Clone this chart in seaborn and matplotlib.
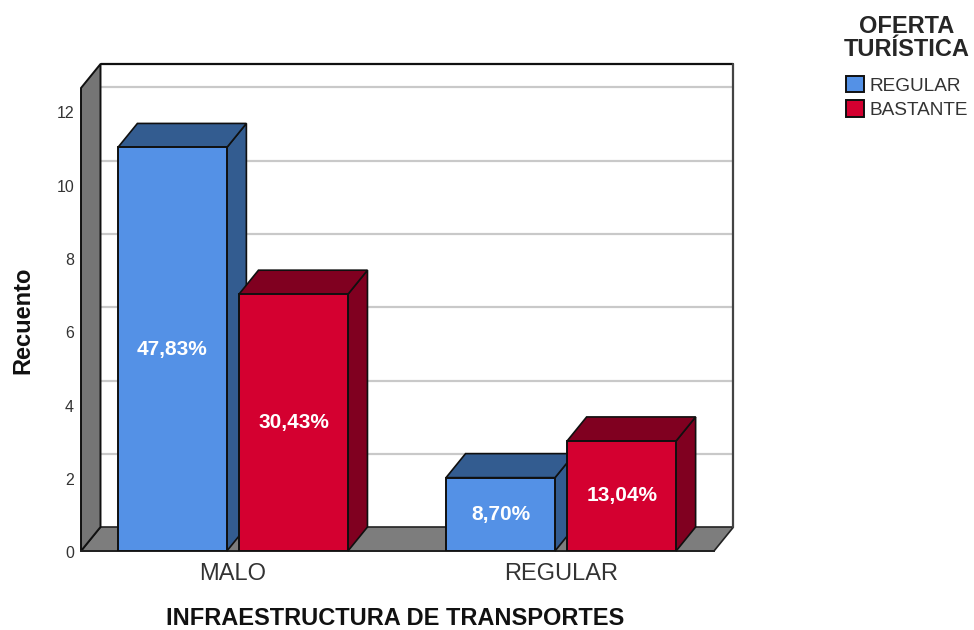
import matplotlib
matplotlib.use("Agg")
import matplotlib.pyplot as plt
from matplotlib.patches import Polygon
from matplotlib.transforms import ScaledTranslation
import pandas as pd
import seaborn as sns

categories = ["MALO", "REGULAR"]
oferta = ["REGULAR", "BASTANTE"]
regular_counts = [11, 2]
bastante_counts = [7, 3]
regular_pct = ["47,83%", "8,70%"]
bastante_pct = ["30,43%", "13,04%"]
y_ticks = [0, 2, 4, 6, 8, 10, 12]

FRONT = {"REGULAR": "#5491E6", "BASTANTE": "#D40030"}
DARK = {"#5491E6": "#335C90", "#D40030": "#800020"}

sns.set_theme(style="white")
plt.rcParams["font.family"] = ["Liberation Sans", "DejaVu Sans"]

W, H = 974, 630
LEFT, RIGHT, BOTTOM, TOP = 81, 714, 551, 88
DEPTH_X, DEPTH_Y = 19.5, 24

df = pd.DataFrame({
    "infra": categories * 2,
    "oferta": [oferta[0]] * 2 + [oferta[1]] * 2,
    "recuento": regular_counts + bastante_counts,
})

fig = plt.figure(figsize=(W / 100, H / 100), dpi=100)
ax = fig.add_axes([LEFT / W, 1 - BOTTOM / H, (RIGHT - LEFT) / W, (BOTTOM - TOP) / H])
ax.patch.set_alpha(0)

sns.barplot(data=df, x="infra", y="recuento", hue="oferta", hue_order=oferta,
            palette=FRONT, saturation=1, width=0.738, gap=0.1,
            edgecolor="#101010", linewidth=1.4, ax=ax)

ax.set_xlim(-0.463, 1.466)
ax.set_ylim(0, 12.62)
ax.set_yticks(y_ticks)

# depth of the fake 3d box, in data units
dx = DEPTH_X * (ax.get_xlim()[1] - ax.get_xlim()[0]) / (RIGHT - LEFT)
dy = DEPTH_Y * ax.get_ylim()[1] / (BOTTOM - TOP)
x0, x1 = ax.get_xlim()
ymax = ax.get_ylim()[1]

# walls
ax.add_patch(Polygon([(x0 + dx, dy), (x1 + dx, dy), (x1 + dx, ymax + dy), (x0 + dx, ymax + dy)],
                     fc="white", ec="none", zorder=0.5, clip_on=False))
for t in y_ticks[1:]:
    ax.plot([x0 + dx, x1 + dx], [t + dy * 0.98, t + dy * 0.98], color="#c9c9c9", lw=1.6,
            zorder=0.6, clip_on=False)
ax.add_patch(Polygon([(x0, 0), (x0 + dx, dy), (x0 + dx, ymax + dy), (x0, ymax)],
                     fc="#757575", ec="#101010", lw=1.4, zorder=0.8, clip_on=False))
ax.add_patch(Polygon([(x0, 0), (x1, 0), (x1 + dx, dy), (x0 + dx, dy)],
                     fc="#7d7d7d", ec="#222222", lw=1.2, zorder=0.7, clip_on=False))
ax.plot([x0 + dx, x1 + dx], [ymax + dy, ymax + dy], color="#101010", lw=1.6, zorder=0.9, clip_on=False)
ax.plot([x1 + dx, x1 + dx], [dy, ymax + dy], color="#444444", lw=1.6, zorder=0.9, clip_on=False)

# side and top faces of every bar, left to right so that neighbours overlap
bars = sorted([b for c in ax.containers for b in c], key=lambda b: b.get_x())
for i, bar in enumerate(bars):
    xa, xb, h = bar.get_x(), bar.get_x() + bar.get_width(), bar.get_height()
    dark = DARK[matplotlib.colors.to_hex(bar.get_facecolor()).upper()]
    z = 2 + i
    bar.set_zorder(z + 0.2)
    ax.add_patch(Polygon([(xb, 0), (xb + dx, dy), (xb + dx, h + dy), (xb, h)],
                         fc=dark, ec="#101010", lw=1.2, zorder=z, clip_on=False))
    ax.add_patch(Polygon([(xa, h), (xb, h), (xb + dx, h + dy), (xa + dx, h + dy)],
                         fc=dark, ec="#101010", lw=1.2, zorder=z, clip_on=False))

for cont, labels in zip(ax.containers, [regular_pct, bastante_pct]):
    ax.bar_label(cont, labels=labels, label_type="center", color="white",
                 fontsize=15, fontweight="bold", zorder=20)

sns.despine(ax=ax, left=True, top=True, right=True)
ax.spines["bottom"].set_color("#222222")
ax.spines["bottom"].set_linewidth(1.4)
ax.spines["bottom"].set_zorder(1)
ax.tick_params(axis="y", length=0, pad=5, labelsize=11.5, labelcolor="#333333")
ax.tick_params(axis="x", length=0, pad=9, labelsize=17, labelcolor="#333333")
for lab in ax.get_yticklabels():
    lab.set_transform(lab.get_transform() + ScaledTranslation(0, -1.5 / 100, fig.dpi_scale_trans))
ax.set_xlabel("INFRAESTRUCTURA DE TRANSPORTES", fontsize=17, fontweight="bold", color="#111111")
ax.set_ylabel("Recuento", fontsize=17, fontweight="bold", color="#111111")
ax.xaxis.set_label_coords((395.5 - LEFT) / (RIGHT - LEFT), (BOTTOM - 618.5) / (BOTTOM - TOP))
ax.xaxis.label.set_va("center")
ax.yaxis.set_label_coords((23 - LEFT) / (RIGHT - LEFT), (BOTTOM - 320) / (BOTTOM - TOP))
ax.yaxis.label.set_va("center")

handles, _ = ax.get_legend_handles_labels()
ax.get_legend().remove()
leg = fig.legend(handles, oferta, title="OFERTA\nTURÍSTICA", loc="upper right",
                 bbox_to_anchor=(987 / W, 1 + 2 / H), frameon=False, fontsize=13.7,
                 title_fontproperties={"size": 17, "weight": "bold"},
                 handlelength=0.95, handleheight=0.95, handletextpad=0.3, labelspacing=0.3,
                 alignment="center", labelcolor="#333333")
leg.get_title().set_linespacing(1.0)
leg.get_title().set_multialignment("center")
leg._legend_box.sep = 10.6  # more room under the title

fig.savefig("out.png", dpi=100)
plt.close(fig)
